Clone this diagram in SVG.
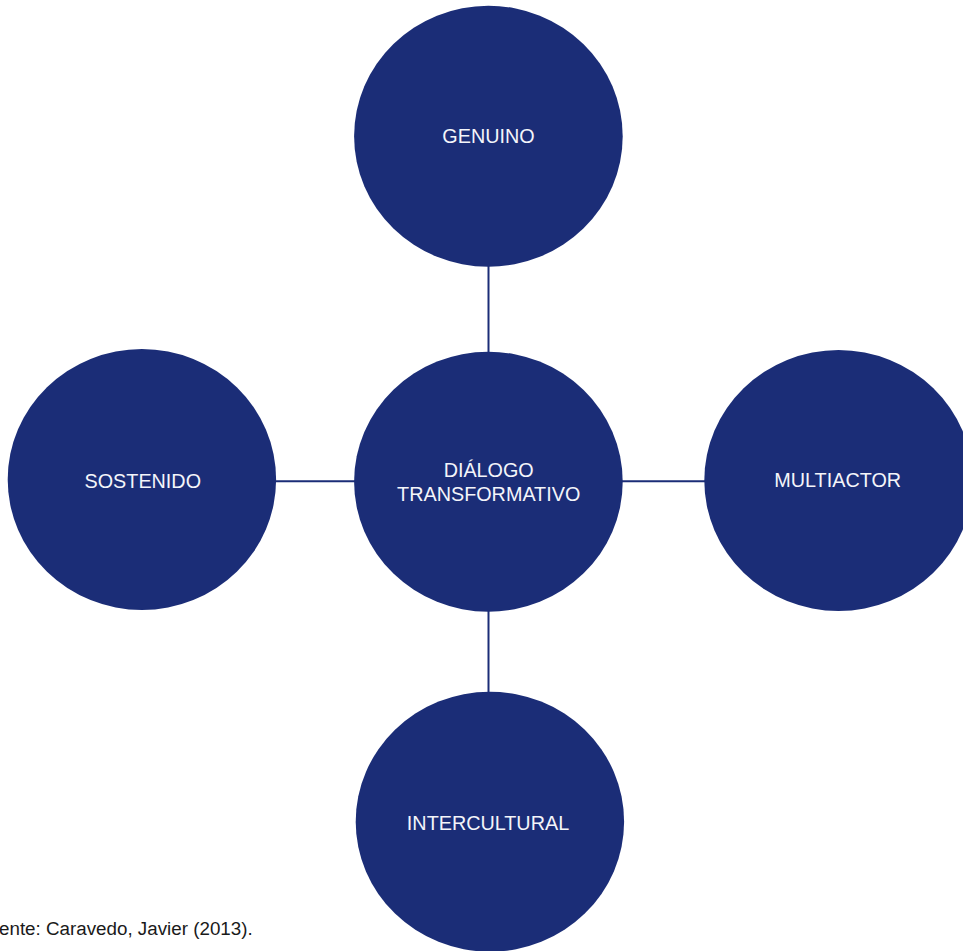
<svg xmlns="http://www.w3.org/2000/svg" width="963" height="951" viewBox="0 0 963 951">
<style>
.node{fill:#1b2d77;}
.lbl{fill:#f4f5fa;font-family:"Liberation Sans",Arial,sans-serif;font-size:19.8px;text-anchor:middle;}
.conn{stroke:#1b2d77;stroke-width:2;fill:none;}
.note{fill:#1a1a1a;font-family:"Liberation Sans",Arial,sans-serif;font-size:18.8px;}
</style>
<rect width="963" height="951" fill="#ffffff"/>
<g id="connectors">
<line class="conn" x1="488.5" y1="260" x2="488.5" y2="358"/>
<line class="conn" x1="488.5" y1="605" x2="488.5" y2="698"/>
<line class="conn" x1="270" y1="481.3" x2="360" y2="481.3"/>
<line class="conn" x1="616" y1="481.3" x2="710" y2="481.3"/>
</g>
<g id="genuino">
<ellipse class="node" cx="488.4" cy="136.2" rx="134.3" ry="130.5"/>
<text class="lbl" x="488.5" y="143.3">GENUINO</text>
</g>
<g id="dialogo">
<ellipse class="node" cx="488.4" cy="481.7" rx="134.3" ry="130"/>
<text class="lbl" x="488.7" y="476.7">DIÁLOGO</text>
<text class="lbl" x="488.7" y="501">TRANSFORMATIVO</text>
</g>
<g id="sostenido">
<ellipse class="node" cx="141.9" cy="479.5" rx="134.2" ry="130.5"/>
<text class="lbl" x="142.8" y="488.3">SOSTENIDO</text>
</g>
<g id="multiactor">
<ellipse class="node" cx="838.5" cy="480.5" rx="134.2" ry="130.5"/>
<text class="lbl" x="837.7" y="487.3">MULTIACTOR</text>
</g>
<g id="intercultural">
<ellipse class="node" cx="489.9" cy="821.7" rx="134.2" ry="130"/>
<text class="lbl" x="488" y="830">INTERCULTURAL</text>
</g>
<text class="note" x="-1" y="935">ente: Caravedo, Javier (2013).</text>
</svg>
